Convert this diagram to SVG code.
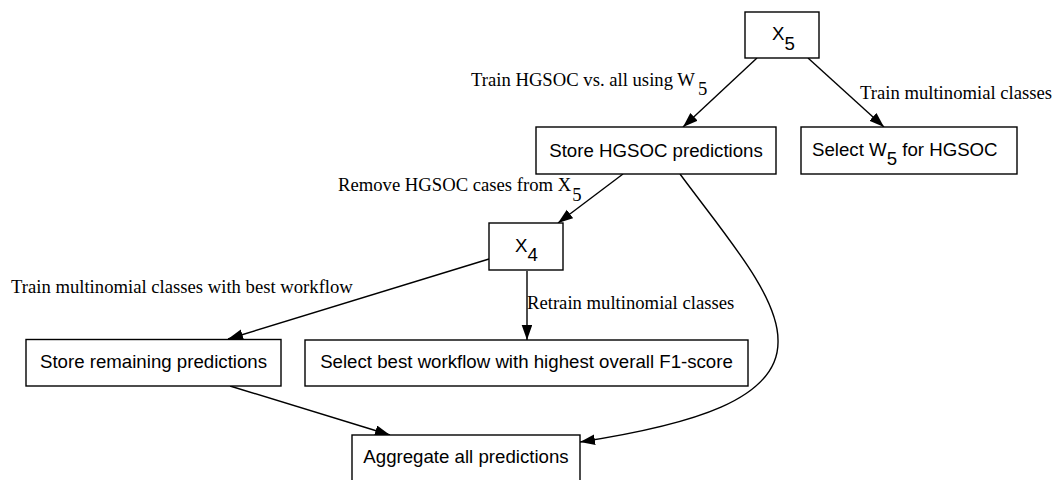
<svg xmlns="http://www.w3.org/2000/svg" width="1055" height="480" viewBox="0 0 1055 480">
<style>
.box{fill:#fff;stroke:#000;stroke-width:1.4}
.nt{font-family:"Liberation Sans",Arial,Helvetica,sans-serif;font-size:18.67px;fill:#000}
.et{font-family:"Liberation Serif","Times New Roman",serif;font-size:18.67px;fill:#000}
.edge{fill:none;stroke:#000;stroke-width:1.4}
</style>
<defs>
<marker id="arr" markerUnits="userSpaceOnUse" markerWidth="16" markerHeight="12" refX="15" refY="5.3" orient="auto">
<path d="M0,0 L15,5.3 L0,10.6 z" fill="#000"/>
</marker>
</defs>
<rect width="1055" height="480" fill="#fff"/>
<g id="connectors">
<path class="edge" d="M757,58 L683,127" marker-end="url(#arr)"/>
<path class="edge" d="M808,58 L884,127" marker-end="url(#arr)"/>
<path class="edge" d="M623,174 L558,223" marker-end="url(#arr)"/>
<path class="edge" d="M489,259 L228,339" marker-end="url(#arr)"/>
<path class="edge" d="M527,271 L527,340" marker-end="url(#arr)"/>
<path class="edge" d="M230,386 L390,435" marker-end="url(#arr)"/>
<path class="edge" d="M680,174 C725,235 778,295 778,340 C780,400 690,425 580,442" marker-end="url(#arr)"/>
<text class="et" x="471" y="86">Train HGSOC vs. all using W<tspan dx="3" dy="9">5</tspan></text>
<text class="et" x="860" y="99">Train multinomial classes</text>
<text class="et" x="338" y="191">Remove HGSOC cases from X<tspan dx="1" dy="10">5</tspan></text>
<text class="et" x="11" y="293">Train multinomial classes with best workflow</text>
<text class="et" x="527" y="309">Retrain multinomial classes</text>
</g>
<g id="node-x5">
<rect class="box" x="745" y="12" width="74" height="46"/>
<text class="nt" x="772" y="40">X<tspan dy="10">5</tspan></text>
</g>
<g id="node-store-hgsoc">
<rect class="box" x="536" y="127" width="240" height="47"/>
<text class="nt" x="656" y="157" text-anchor="middle">Store HGSOC predictions</text>
</g>
<g id="node-select-w5">
<rect class="box" x="801" y="127" width="216" height="47"/>
<text class="nt" x="812" y="156">Select W<tspan dy="9">5</tspan><tspan dy="-9"> for HGSOC</tspan></text>
</g>
<g id="node-x4">
<rect class="box" x="489" y="223" width="74" height="47"/>
<text class="nt" x="515" y="252">X<tspan dy="9">4</tspan></text>
</g>
<g id="node-store-remaining">
<rect class="box" x="26" y="339.5" width="255" height="46.5"/>
<text class="nt" x="153.5" y="368" text-anchor="middle">Store remaining predictions</text>
</g>
<g id="node-select-best">
<rect class="box" x="305" y="340" width="443" height="46"/>
<text class="nt" x="526.5" y="368" text-anchor="middle">Select best workflow with highest overall F1-score</text>
</g>
<g id="node-aggregate">
<rect class="box" x="352" y="435" width="228" height="47"/>
<text class="nt" x="466" y="463" text-anchor="middle">Aggregate all predictions</text>
</g>
</svg>
